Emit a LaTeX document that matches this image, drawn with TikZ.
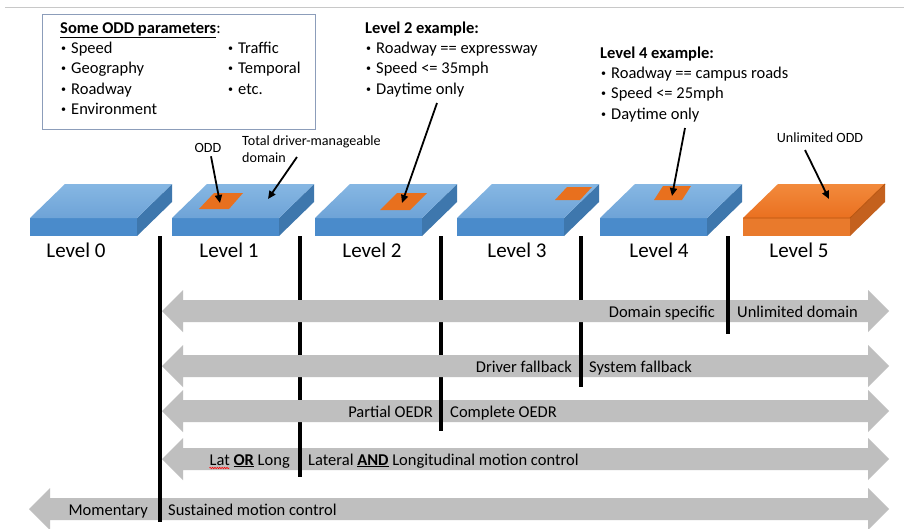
\documentclass[tikz,border=0pt]{standalone}
\usepackage{fontspec}
\setmainfont{Carlito}
\usetikzlibrary{arrows.meta,decorations.pathmorphing}
\definecolor{slabtopA}{HTML}{86B7E3}
\definecolor{slabtopB}{HTML}{6EA3D7}
\definecolor{slabfront}{HTML}{4A8BCB}
\definecolor{slabside}{HTML}{3E77AD}
\definecolor{ortopA}{HTML}{F28A3C}
\definecolor{ortopB}{HTML}{EA7020}
\definecolor{orfront}{HTML}{E97A2C}
\definecolor{orside}{HTML}{C4611E}
\definecolor{oredge}{HTML}{B85510}
\definecolor{patch}{HTML}{E8701E}
\definecolor{arrowgray}{HTML}{BFBFBF}
\definecolor{boxborder}{HTML}{8C9DBA}
\definecolor{topline}{HTML}{C8C8C8}
\newcommand{\blueslab}[1]{%
  \fill[slabfront] (#1,218) rectangle (#1+107,236);
  \fill[slabside] (#1+107,218) -- (#1+142,184) -- (#1+142,202) -- (#1+107,236) -- cycle;
  \shade[top color=slabtopA,bottom color=slabtopB] (#1,218) -- (#1+35,184) -- (#1+142,184) -- (#1+107,218) -- cycle;
}
\newcommand{\grayarrow}[3]{%
  \fill[arrowgray] (#1,#3) -- ++(21,-21) -- ++(0,10) -- (#2-21,#3-11) -- ++(0,-10) -- (#2,#3)
    -- ++(-21,21) -- ++(0,-10) -- (#1+21,#3+11) -- ++(0,10) -- cycle;
}
\newcommand{\bul}{\makebox[10pt][l]{\raisebox{1.6pt}{\fontsize{10}{10}\selectfont •}}}
\begin{document}
\begin{tikzpicture}[x=1pt,y=-1pt,
  txt/.style={inner sep=0pt,font=\fontsize{16.5}{19}\selectfont},
  lvl/.style={inner sep=0pt,font=\fontsize{21}{24}\selectfont,anchor=base},
  smalltxt/.style={inner sep=0pt,font=\fontsize{14.1}{17}\selectfont},
  pointer/.style={line width=1.8pt,-{Triangle[length=8pt,width=7pt]}},
  divider/.style={line width=4pt}]
\useasboundingbox (0,0) rectangle (904,528);
\fill[white] (0,0) rectangle (904,528);
\draw[topline,line width=1pt] (5,7) -- (904,7);

% ODD parameter box
\node[draw=boxborder,line width=1.2pt,minimum width=273pt,minimum height=115pt,inner sep=0pt,anchor=north west] (oddbox) at (42,14) {};
\node[txt,anchor=base west] (oddtitle) at (60,33) {\textbf{\underline{Some ODD parameters}}:};
\node[txt,anchor=base west] (p1) at (61,53) {\bul Speed};
\node[txt,anchor=base west] (p2) at (61,73.5) {\bul Geography};
\node[txt,anchor=base west] (p3) at (61,94) {\bul Roadway};
\node[txt,anchor=base west] (p4) at (61,114.5) {\bul Environment};
\node[txt,anchor=base west] (p5) at (228,53) {\bul Traffic};
\node[txt,anchor=base west] (p6) at (228,73.5) {\bul Temporal};
\node[txt,anchor=base west] (p7) at (228,94) {\bul etc.};

% Level 2 example
\node[txt,anchor=base west] (l2title) at (365,33) {\textbf{Level 2 example:}};
\node[txt,anchor=base west] (l2a) at (366,53) {\bul Roadway == expressway};
\node[txt,anchor=base west] (l2b) at (366,73.5) {\bul Speed <= 35mph};
\node[txt,anchor=base west] (l2c) at (366,94) {\bul Daytime only};

% Level 4 example
\node[txt,anchor=base west] (l4title) at (600,58) {\textbf{Level 4 example:}};
\node[txt,anchor=base west] (l4a) at (601,78) {\bul Roadway == campus roads};
\node[txt,anchor=base west] (l4b) at (601,98.5) {\bul Speed <= 25mph};
\node[txt,anchor=base west] (l4c) at (601,119) {\bul Daytime only};

% slabs
\blueslab{30}
\blueslab{172}
\blueslab{315}
\blueslab{457}
\blueslab{600}
% orange slab level 5
\fill[orfront] (743,218) rectangle (850,236);
\fill[orside] (850,218) -- (885,184) -- (885,202) -- (850,236) -- cycle;
\shade[top color=ortopA,bottom color=ortopB] (743,218) -- (778,184) -- (885,184) -- (850,218) -- cycle;
\draw[oredge,line width=0.8pt] (743,218) -- (850,218) -- (885,184);

% ODD patches
\fill[patch] (199,209) -- (229,209) -- (243,193) -- (214,193) -- cycle;
\fill[patch] (380,210) -- (410,210) -- (427,193) -- (397,193) -- cycle;
\fill[patch] (555,200) -- (580,200) -- (592,187) -- (567,187) -- cycle;
\fill[patch] (654,200) -- (682,200) -- (691,186) -- (663,186) -- cycle;

% small labels and pointers
\node[smalltxt,anchor=base] (oddlbl) at (208,152) {ODD};
\node[smalltxt,anchor=base west] (tdm1) at (242,145) {Total driver-manageable};
\node[smalltxt,anchor=base west] (tdm2) at (242,162) {domain};
\node[smalltxt,anchor=base] (unl) at (820,142) {Unlimited ODD};
\coordinate (oddend) at (220,203);
\coordinate (tdmstart) at (297,157);
\coordinate (tdmend) at (268,199);
\coordinate (l2start) at (437,103);
\coordinate (l2end) at (402,203);
\coordinate (l4start) at (685,128);
\coordinate (l4end) at (672,196);
\coordinate (unlstart) at (805,150);
\coordinate (unlend) at (829,199);
\draw[pointer] (oddlbl.south) ++(3,4) -- (oddend);
\draw[pointer] (tdmstart) -- (tdmend);
\draw[pointer] (l2start) -- (l2end);
\draw[pointer] (l4start) -- (l4end);
\draw[pointer] (unlstart) -- (unlend);

% level labels
\node[lvl] (lv0) at (76,257) {Level 0};
\node[lvl] (lv1) at (229,257) {Level 1};
\node[lvl] (lv2) at (372,257) {Level 2};
\node[lvl] (lv3) at (517,257) {Level 3};
\node[lvl] (lv4) at (659,257) {Level 4};
\node[lvl] (lv5) at (799,257) {Level 5};

% arrows and dividers (layered)
\grayarrow{29}{889}{509}
\draw[divider] (160,236) -- (160,522);
\grayarrow{162}{889}{459}
\draw[divider] (300,236) -- (300,477);
\grayarrow{162}{889}{411}
\draw[divider] (441,236) -- (441,431);
\grayarrow{162}{889}{366}
\draw[divider] (581,236) -- (581,387);
\grayarrow{162}{889}{311}
\draw[divider] (728,236) -- (728,334);

% arrow texts
\node[txt,anchor=base east] (r1a) at (715,317) {Domain specific};
\node[txt,anchor=base west] (r1b) at (737,317) {Unlimited domain};
\node[txt,anchor=base east] (r2a) at (572,372) {Driver fallback};
\node[txt,anchor=base west] (r2b) at (589,372) {System fallback};
\node[txt,anchor=base east] (r3a) at (433,417) {Partial OEDR};
\node[txt,anchor=base west] (r3b) at (450,417) {Complete OEDR};
\node[txt,anchor=base east] (r4a) at (290,465) {Lat \textbf{\underline{OR}} Long};
\node[txt,anchor=base west] (r4b) at (308,465) {Lateral \textbf{\underline{AND}} Longitudinal motion control};
\node[txt,anchor=base east] (r5a) at (148,515) {Momentary};
\node[txt,anchor=base west] (r5b) at (168,515) {Sustained motion control};
\draw[red,line width=0.6pt,decorate,decoration={snake,segment length=2.4pt,amplitude=0.7pt}]
  ([yshift=-3pt]r4a.base west) -- ++(20,0);
\end{tikzpicture}
\end{document}
